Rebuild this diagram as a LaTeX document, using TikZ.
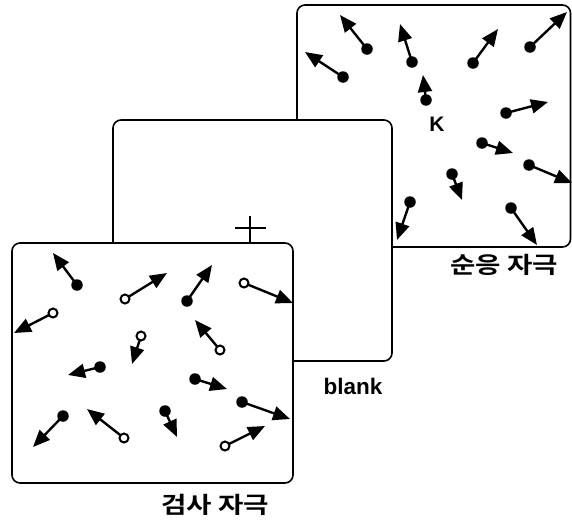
\documentclass[tikz,border=0pt]{standalone}
\usepackage{fontspec}
\setmainfont{Liberation Sans}
\newfontfamily\krfont[BoldFont={Noto Sans CJK KR Bold}]{Noto Sans CJK KR}
\usetikzlibrary{arrows.meta}
\tikzset{
  panel/.style={draw=black, fill=white, line width=1.6pt, rounded corners=8pt},
  mot/.style={line width=2.4pt, -{Triangle[length=17pt,width=14pt]}},
  fdot/.style={circle, fill=black, inner sep=0pt, minimum size=11.5pt},
  odot/.style={circle, draw=black, fill=white, line width=2pt, inner sep=0pt, minimum size=9pt},
  lbl/.style={font=\bfseries\fontsize{22.5}{24}\selectfont, inner sep=0pt},
  krlbl/.style={font=\krfont\bfseries\fontsize{23}{25}\selectfont, inner sep=0pt, xscale=1.2},
  fixcross/.style={line width=2.8pt}
}
\begin{document}
\begin{tikzpicture}[x=1pt,y=-1pt]
\useasboundingbox (0,0) rectangle (572,525);
% back panel (adaptation)
\draw[panel] (297,5) rectangle (570.5,247);
\foreach \i/\ax/\ay/\bx/\by in {
  1/367/49/340/15, 2/343/77/305/52, 3/412/62/400/24, 4/426/100/423/75,
  5/473/63/498/29, 6/530/47/567/12, 7/506/113/548/102, 8/482/143/513/153,
  9/529/165/572/183, 10/452/174/462/200, 11/410/202/397/240, 12/511/208/537/245}{
  \coordinate (p\i) at (\ax,\ay);
  \coordinate (q\i) at (\bx,\by);
  \draw[mot] (p\i) -- (q\i);
  \node[fdot] (d\i) at (p\i) {};
}
\node[lbl, font=\bfseries\fontsize{21}{23}\selectfont] (K) at (437,124) {K};
\node[krlbl] (adapt) at (504,265) {순응 자극};
% middle panel (blank)
\draw[panel] (113,120) rectangle (392,361);
\node[lbl] (blank) at (353,386) {blank};
% fixation cross
\coordinate (cv1) at (250,216);
\coordinate (cv2) at (250,243);
\coordinate (ch1) at (235,228);
\coordinate (ch2) at (266,228);
\draw[fixcross] (cv1) -- (cv2);
\draw[fixcross] (ch1) -- (ch2);
% front panel (test)
\draw[panel] (12,243) rectangle (293,483);
\foreach \i/\ax/\ay/\bx/\by/\st in {
  1/77/285/53/253/fdot, 2/53/313/14/333/odot, 3/125/299/167/273/odot,
  4/141/336/132/364/odot, 5/187/301/212/265/fdot, 6/244/283/293/303/odot,
  7/220/350/195/320/odot, 8/100/367/68/375/fdot, 9/63/416/33/447/fdot,
  10/124/438/87/409/odot, 11/195/379/227/389/fdot, 12/165/411/177/437/fdot,
  13/242/402/290/419/fdot, 14/225/446/265/426/odot}{
  \coordinate (s\i) at (\ax,\ay);
  \coordinate (t\i) at (\bx,\by);
  \draw[mot] (s\i) -- (t\i);
  \node[\st] (e\i) at (s\i) {};
}
\node[krlbl] (test) at (215,505) {검사 자극};
\end{tikzpicture}
\end{document}
